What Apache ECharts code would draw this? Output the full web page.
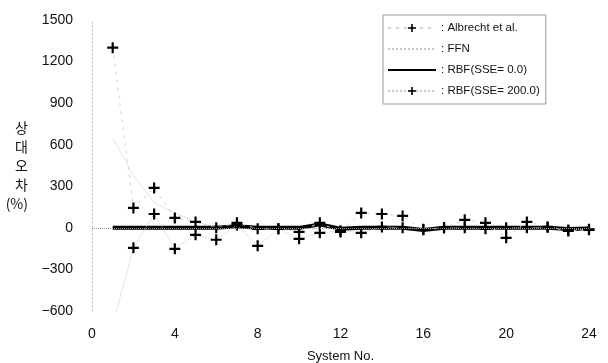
<!DOCTYPE html>
<html>
    <head>
        <meta charset="utf-8" />
        <title>ECharts</title>
        <script src="https://cdn.jsdelivr.net/npm/echarts@6.0.0/dist/echarts.min.js"></script>
    </head>
    <body style="margin:0;">
        <div id="main" style="width: 608px;height: 363px;"></div>
        <script type="text/javascript">
            const systems = [1, 2, 3, 4, 5, 6, 7, 8, 9, 10, 11, 12, 13, 14, 15, 16, 17, 18, 19, 20, 21, 22, 23, 24];
            const albrecht = [1300, 144, 288, 72, 43, 0, 36, -7, -7, -29, 36, -29, 108, 100, 86, -14, 0, 58, 36, -72, 43, 7, -22, -14];
            const ffn = [650, 380, 180, 110, 40, 10, 20, 0, 5, -10, 10, -5, 0, 5, 0, -5, 0, 5, 0, 0, 0, 5, -5, 0];
            const rbf0 = [0, 0, 0, 0, 0, 0, 12, 0, 0, 0, 25, -6, 0, 0, 0, -15, 0, 0, 0, 0, 0, 0, -8, -5];
            const rbf200 = [-700, -144, 100, -151, -50, -86, 20, -130, -7, -79, -36, -20, -36, 7, 0, -10, 0, 0, -7, 0, 0, 5, -15, -10];
            const yTicks = [-600, 1500, 300];
            const xTicks = [0, 24, 4];

            const PLUS = 'path://M4,0H6V4H10V6H6V10H4V6H0V4H4Z';
            const pairs = (arr) => systems.map((x, i) => [x, arr[i]]);

            const myChart = echarts.init(document.getElementById('main'));

            const option = {
                animation: false,
                textStyle: { fontFamily: 'Liberation Sans' },
                grid: { left: 92, right: 19, top: 20, bottom: 52, outerBoundsMode: 'none' },
                xAxis: {
                    type: 'value',
                    min: xTicks[0],
                    max: xTicks[1],
                    interval: xTicks[2],
                    axisLine: { show: false },
                    axisTick: { show: false },
                    splitLine: { show: false },
                    axisLabel: { color: '#111', fontSize: 14, margin: 16 },
                    name: 'System No.',
                    nameLocation: 'middle',
                    nameGap: 39,
                    nameTextStyle: { color: '#111', fontSize: 13 }
                },
                yAxis: {
                    type: 'value',
                    min: yTicks[0],
                    max: yTicks[1],
                    interval: yTicks[2],
                    axisLine: { show: true, lineStyle: { color: '#b0b0b0', type: [1, 3], width: 1 } },
                    axisTick: { show: false },
                    splitLine: { show: false },
                    axisLabel: { color: '#111', fontSize: 14, margin: 19, formatter: (v) => String(v).replace('-', '\u2212') },
                    name: '상\n대\n오\n차\n(%)',
                    nameLocation: 'middle',
                    nameRotate: 0,
                    nameGap: 64,
                    nameTextStyle: { color: '#111', fontSize: 14, lineHeight: 19, fontFamily: 'Noto Sans CJK KR' }
                },
                legend: {
                    orient: 'vertical',
                    left: 383,
                    top: 15,
                    padding: [7, 6, 7, 4],
                    itemGap: 9,
                    itemWidth: 48,
                    itemHeight: 10,
                    borderColor: '#999',
                    borderWidth: 1,
                    formatter: ': {name}',
                    textStyle: { color: '#111', fontSize: 11.5 },
                    data: [
                        'Albrecht et al.',
                        { name: 'FFN', itemStyle: { opacity: 0 } },
                        { name: 'RBF(SSE= 0.0)', itemStyle: { opacity: 0 } },
                        'RBF(SSE= 200.0)'
                    ]
                },
                series: [
                    {
                        type: 'line',
                        name: 'FFN',
                        data: pairs(ffn),
                        symbol: 'none',
                        lineStyle: { color: '#c8c8c8', width: 1, type: 'dotted' },
                        itemStyle: { color: '#c8c8c8' },
                        z: 1
                    },
                    {
                        type: 'line',
                        name: 'Albrecht et al.',
                        data: pairs(albrecht),
                        symbol: PLUS,
                        symbolSize: 11,
                        lineStyle: { color: '#cfcfcf', width: 1, type: [3, 5] },
                        itemStyle: { color: '#000' },
                        z: 3
                    },
                    {
                        type: 'line',
                        name: 'RBF(SSE= 0.0)',
                        data: pairs(rbf0),
                        symbol: 'none',
                        lineStyle: { color: '#000', width: 4 },
                        itemStyle: { color: '#000' },
                        markLine: {
                            silent: true,
                            symbol: 'none',
                            label: { show: false },
                            lineStyle: { color: '#999', type: 'dotted', width: 1 },
                            data: [{ yAxis: 0 }]
                        },
                        z: 2
                    },
                    {
                        type: 'line',
                        name: 'RBF(SSE= 200.0)',
                        data: pairs(rbf200),
                        symbol: PLUS,
                        symbolSize: 11,
                        lineStyle: { color: '#c8c8c8', width: 1, type: 'dotted' },
                        itemStyle: { color: '#000' },
                        z: 3
                    }
                ]
            };
            myChart.setOption(option);
        </script>
    </body>
</html>
